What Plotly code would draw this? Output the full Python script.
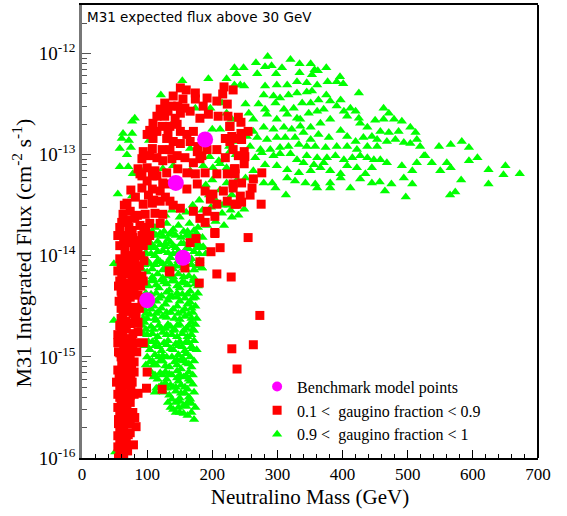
import plotly.graph_objects as go

# ---------------- data (mass in GeV, log10 of integrated flux in cm^-2 s^-1) ----------------
bench_mass = [189, 144, 155, 100]
bench_log10_flux = [-12.85, -13.28, -14.02, -14.44]

# green: 0.9 < gaugino fraction < 1  -- upper scattered band
green_band = [
    (285,-12.03),(320,-12.06),(334,-12.10),(351,-12.10),(375,-12.14),(267,-12.09),(281,-12.13),(291,-12.12),
    (307,-12.14),(269,-12.20),(298,-12.20),(334,-12.19),(357,-12.16),(362,-12.17),(353,-12.21),(396,-12.23),
    (401,-12.30),(377,-12.28),(391,-12.28),(425,-12.39),(248,-12.14),(243,-12.31),(249,-12.32),(281,-12.32),
    (299,-12.31),(315,-12.31),(330,-12.28),(345,-12.29),(361,-12.31),(330,-12.39),(345,-12.38),(353,-12.37),
    (375,-12.41),(317,-12.41),(279,-12.41),(294,-12.42),(304,-12.44),(271,-12.50),(281,-12.55),(297,-12.49),
    (310,-12.55),(325,-12.54),(338,-12.49),(351,-12.49),(363,-12.46),(381,-12.47),(397,-12.46),(412,-12.54),
    (420,-12.57),(425,-12.64),(402,-12.57),(391,-12.52),(371,-12.55),(361,-12.57),(348,-12.59),(335,-12.65),
    (330,-12.64),(315,-12.60),(299,-12.65),(284,-12.60),(263,-12.65),(256,-12.59),(251,-12.50),(463,-12.54),
    (471,-12.59),(450,-12.66),(463,-12.65),(479,-12.65),(491,-12.67),(504,-12.73),(512,-12.78),(514,-12.85),
    (519,-12.92),(486,-12.77),(471,-12.78),(458,-12.77),(438,-12.73),(427,-12.69),(407,-12.62),(381,-12.65),
    (366,-12.69),(351,-12.73),(335,-12.72),(322,-12.75),(310,-12.73),(294,-12.75),(279,-12.73),(263,-12.77),
    (253,-12.82),(269,-12.83),(284,-12.85),(299,-12.83),(312,-12.83),(327,-12.83),(340,-12.78),(351,-12.85),
    (363,-12.80),(379,-12.83),(397,-12.76),(407,-12.82),(420,-12.87),(432,-12.83),(445,-12.82),(453,-12.85),
    (468,-12.87),(481,-12.85),(494,-12.88),(504,-12.89),(453,-12.92),(438,-12.92),(422,-12.95),(407,-12.92),
    (391,-12.92),(374,-12.93),(358,-12.92),(345,-12.92),(333,-12.90),(317,-12.92),(304,-12.93),(289,-12.95),
    (274,-12.95),(258,-12.92),(248,-13.03),(266,-13.03),(276,-12.98),(294,-13.01),(304,-12.99),(320,-12.99),
    (330,-13.05),(345,-13.01),(361,-13.03),(376,-13.03),(389,-13.01),(402,-13.05),(415,-13.03),(427,-13.01),
    (438,-13.03),(448,-13.05),(458,-13.05),(468,-13.08),(491,-13.11),(507,-13.16),(525,-13.01),(537,-13.08),
    (548,-12.92),(566,-12.90),(583,-12.87),(594,-12.93),(560,-13.08),(566,-13.13),(594,-13.06),(607,-13.03),
    (624,-13.15),(650,-13.11),(647,-13.20),(672,-13.19),(582,-13.25),(624,-13.29),(573,-13.37),(565,-13.40),
    (497,-13.42),(465,-13.36),(475,-13.29),(457,-13.27),(445,-13.28),(427,-13.24),(412,-13.33),(397,-13.23),
    (381,-13.28),(381,-13.33),(358,-13.29),(361,-13.33),(343,-13.28),(327,-13.26),(315,-13.23),(297,-13.33),
    (292,-13.28),(279,-13.28),(263,-13.24),(251,-13.23),(313,-13.40),(249,-13.54),(263,-13.16),(281,-13.10),
    (299,-13.11),(315,-13.15),(333,-13.18),(351,-13.16),(366,-13.13),(381,-13.16),(397,-13.19),(407,-13.11),
    (422,-13.13),(435,-13.19),(445,-13.13),(494,-13.23),(507,-13.29),(514,-13.08),(527,-13.01),(550,-13.16),
    (356,-13.10),(371,-13.08),(340,-13.08),(237,-12.20),
]

# green: left and middle scatter above the dense core
green_left = [
    (154,-12.27),(194,-12.25),(222,-12.25),(234,-12.14),(234,-12.31),(121,-12.41),(174,-12.54),(197,-12.54),
    (215,-12.49),(222,-12.59),(230,-12.65),(200,-12.75),(212,-12.75),(81,-12.64),(77,-12.67),(63,-12.79),
    (77,-12.79),(61,-12.84),(72,-12.86),(58,-12.94),(75,-12.93),(69,-13.00),(103,-12.86),(58,-13.12),
    (71,-13.12),(138,-12.70),(166,-12.94),(207,-12.97),(227,-12.97),(235,-12.87),(186,-13.11),(201,-13.13),
    (212,-13.09),(222,-13.13),(78,-13.19),(89,-13.14),(124,-13.14),(140,-13.11),(166,-13.16),(55,-13.39),
    (77,-13.41),(63,-13.80),(49,-14.08),(49,-14.64),(51,-15.94),
    (190,-13.30),(200,-13.25),(212,-13.35),(222,-13.28),(230,-13.40),(238,-13.25),(205,-13.45),(215,-13.50),
    (228,-13.55),(240,-13.60),(195,-13.40),(180,-13.45),(196,-13.02),(210,-13.06),(236,-13.00),(226,-12.92),
]

# green: dense core
green_core = [
    (128,-13.60),(138,-13.55),(150,-13.62),(160,-13.57),(170,-13.50),(185,-13.55),(198,-13.52),(215,-13.58),
    (225,-13.50),(165,-13.68),(178,-13.72),(192,-13.70),(205,-13.66),(218,-13.70),(230,-13.62),
    (112,-13.72),(120,-13.78),(130,-13.68),(140,-13.74),(148,-13.70),(156,-13.76),(166,-13.80),(176,-13.78),
    (185,-13.82),(100,-13.85),(108,-13.92),(116,-13.86),(124,-13.95),(132,-13.84),(140,-13.90),(148,-13.96),
    (156,-13.88),(164,-13.93),(172,-13.86),(182,-13.92),(190,-13.98),
    (96,-14.02),(104,-14.08),(112,-14.00),(120,-14.06),(128,-14.12),(136,-14.02),(144,-14.10),(152,-14.05),
    (160,-14.14),(168,-14.03),(176,-14.10),(184,-14.12),(100,-14.16),(116,-14.18),(132,-14.20),(148,-14.18),
    (164,-14.20),(94,-14.26),(102,-14.30),(110,-14.24),(118,-14.32),(126,-14.26),(134,-14.34),(142,-14.25),
    (150,-14.32),(158,-14.27),(166,-14.35),(174,-14.28),(106,-14.38),(122,-14.40),(138,-14.40),(154,-14.38),
    (170,-14.42),(92,-14.48),(100,-14.46),(110,-14.50),(118,-14.55),(128,-14.48),(136,-14.56),(146,-14.50),
    (154,-14.55),(162,-14.48),(170,-14.56),(104,-14.58),(124,-14.60),(142,-14.62),(158,-14.60),(174,-14.50),
    (96,-14.66),(106,-14.70),(114,-14.64),(122,-14.72),(132,-14.68),(140,-14.74),(150,-14.68),(160,-14.72),
    (168,-14.66),(100,-14.78),(116,-14.80),(130,-14.78),(146,-14.80),(162,-14.80),(172,-14.74),
    (98,-14.88),(108,-14.85),(118,-14.90),(126,-14.86),(136,-14.92),(144,-14.87),(154,-14.90),(164,-14.86),
    (112,-14.98),(130,-15.00),(148,-14.98),(160,-14.97),(170,-14.92),
    (104,-15.05),(114,-15.08),(124,-15.04),(134,-15.10),(142,-15.05),(152,-15.12),(160,-15.06),(168,-15.10),
    (120,-15.16),(138,-15.18),(156,-15.20),(110,-15.20),(128,-15.26),(140,-15.30),(148,-15.24),(158,-15.30),
    (166,-15.24),(134,-15.38),(152,-15.36),(164,-15.40),(118,-15.30),(144,-15.45),(156,-15.48),(168,-15.46),
    (150,-15.55),(162,-15.58),(172,-15.62),(140,-15.52),(184,-14.12),(171,-14.41),
]

# green: extra points filling the dense core
green_core_fill = [
    (104,-13.80),(114,-13.80),(124,-13.81),(134,-13.79),(144,-13.80),(152,-13.82),(160,-13.80),(170,-13.81),
    (98,-13.97),(106,-13.98),(116,-13.96),(132,-13.97),(140,-13.98),(156,-13.97),(172,-13.96),(180,-13.98),
    (92,-14.13),(108,-14.13),(124,-14.14),(140,-14.13),(156,-14.12),(172,-14.14),
    (98,-14.29),(114,-14.29),(130,-14.28),(146,-14.30),(162,-14.29),(178,-14.30),
    (96,-14.45),(114,-14.45),(132,-14.44),(150,-14.45),(166,-14.46),
    (94,-14.62),(100,-14.62),(112,-14.62),(130,-14.61),(150,-14.63),(168,-14.62),(176,-14.62),
    (94,-14.77),(108,-14.77),(124,-14.76),(138,-14.78),(154,-14.77),(168,-14.78),
    (104,-14.93),(122,-14.94),(140,-14.93),(158,-14.94),(176,-14.93),
    (98,-15.08),(110,-15.08),(128,-15.09),(146,-15.08),(164,-15.07),
    (116,-15.22),(130,-15.22),(146,-15.21),(164,-15.22),
    (112,-15.35),(126,-15.35),(144,-15.34),(158,-15.36),(172,-15.35),
    (132,-15.45),(150,-15.44),(162,-15.45),(144,-15.55),(156,-15.56),(168,-15.55),
    (96,-13.88),(106,-13.88),(120,-13.89),(128,-13.88),(136,-13.87),(152,-13.88),(168,-13.89),(178,-13.88),
    (100,-14.05),(116,-14.05),(132,-14.06),(148,-14.05),(164,-14.04),(180,-14.05),
    (92,-14.21),(108,-14.21),(124,-14.22),(140,-14.21),(156,-14.21),(172,-14.22),
    (98,-14.37),(114,-14.37),(130,-14.36),(146,-14.37),(162,-14.38),(178,-14.37),
    (96,-14.53),(106,-14.53),(122,-14.52),(140,-14.53),(158,-14.53),(168,-14.52),
    (92,-14.69),(118,-14.69),(136,-14.70),(146,-14.69),(164,-14.69),(174,-14.68),
    (102,-14.85),(114,-14.85),(132,-14.84),(150,-14.85),(160,-14.85),(172,-14.84),
    (100,-15.00),(118,-15.00),(124,-14.99),(138,-15.00),(154,-15.01),(166,-15.00),
    (106,-15.15),(128,-15.15),(146,-15.14),(164,-15.15),
    (122,-15.28),(136,-15.28),(152,-15.28),(170,-15.27),
    (138,-15.42),(150,-15.41),(166,-15.42),
]

# green: third layer of the dense core
green_core_fill2 = [
    (108,-13.76),(126,-13.76),(138,-13.77),(162,-13.76),(172,-13.75),
    (102,-13.92),(112,-13.92),(128,-13.91),(144,-13.92),(160,-13.93),(176,-13.92),(186,-13.91),
    (96,-14.09),(112,-14.09),(124,-14.08),(136,-14.09),(152,-14.10),(168,-14.09),(180,-14.08),
    (96,-14.25),(106,-14.25),(122,-14.24),(138,-14.25),(154,-14.26),(170,-14.25),
    (94,-14.41),(102,-14.41),(118,-14.42),(134,-14.41),(146,-14.41),(158,-14.42),(174,-14.41),
    (98,-14.57),(114,-14.57),(130,-14.56),(148,-14.57),(164,-14.58),
    (98,-14.73),(110,-14.73),(128,-14.72),(142,-14.73),(156,-14.74),(170,-14.73),
    (96,-14.89),(112,-14.89),(130,-14.88),(148,-14.89),(168,-14.90),
    (108,-15.04),(120,-15.04),(146,-15.03),(156,-15.04),(172,-15.04),
    (112,-15.18),(124,-15.18),(134,-15.17),(150,-15.18),(160,-15.19),(170,-15.18),
    (114,-15.31),(130,-15.31),(144,-15.30),(162,-15.32),
    (136,-15.50),(148,-15.50),(160,-15.49),(174,-15.50),
]

# red: 0.1 < gaugino fraction < 0.9  -- upper cloud
red_upper = [
    (151,-12.34),(160,-12.36),(174,-12.39),(192,-12.44),(140,-12.42),(137,-12.52),(127,-12.49),(155,-12.45),
    (147,-12.52),(158,-12.54),(174,-12.45),(186,-12.52),(207,-12.47),(218,-12.33),(216,-12.40),(223,-12.50),
    (120,-12.55),(132,-12.57),(115,-12.62),(127,-12.62),(143,-12.64),(151,-12.59),(166,-12.57),(181,-12.64),
    (194,-12.60),(209,-12.62),(224,-12.62),(109,-12.69),(123,-12.72),(135,-12.72),(146,-12.70),(104,-12.76),
    (115,-12.77),(132,-12.79),(151,-12.77),(161,-12.80),(171,-12.77),(227,-12.72),(100,-12.80),(109,-12.84),
    (130,-12.84),(140,-12.87),(151,-12.89),(166,-12.87),(178,-12.92),(192,-12.95),(207,-12.95),(220,-12.84),
    (227,-12.87),(238,-12.84),(94,-12.97),(108,-12.94),(123,-12.95),(135,-12.95),(146,-13.01),(158,-13.03),
    (177,-12.97),(184,-13.01),(220,-13.03),(232,-12.95),(92,-13.04),(104,-13.01),(115,-13.03),(124,-13.06),
    (138,-13.04),(171,-13.08),(181,-13.04),(86,-13.14),(100,-13.13),(112,-13.16),(130,-13.18),(147,-13.14),
    (161,-13.18),(174,-13.19),(189,-13.18),(207,-13.19),(223,-13.19),(235,-13.14),(92,-13.21),(108,-13.21),
    (232,-12.36),(240,-12.63),(244,-12.68),(227,-12.72),(244,-12.79),(255,-12.77),(245,-12.85),(230,-12.82),
    (249,-12.97),(250,-13.02),(249,-13.09),(240,-13.01),(234,-13.14),(235,-13.19),(276,-13.18),(263,-13.24),
    (261,-13.33),(245,-13.28),(232,-13.33),(258,-13.40),(243,-13.41),(245,-13.47),(235,-13.49),(275,-13.49),
]

# red: middle region
red_middle = [
    (89,-13.19),(100,-13.26),(115,-13.21),(124,-13.28),(92,-13.33),(108,-13.34),(120,-13.36),(132,-13.29),
    (161,-13.34),(177,-13.29),(189,-13.36),(201,-13.39),(217,-13.36),(232,-13.29),(238,-13.49),(223,-13.46),
    (207,-13.49),(197,-13.44),(192,-13.56),(181,-13.63),(189,-13.67),(204,-13.61),(171,-13.56),(151,-13.53),
    (135,-13.46),(120,-13.46),(108,-13.48),(94,-13.49),(69,-13.48),(74,-13.56),(63,-13.59),(61,-13.67),
    (81,-13.63),(97,-13.59),(112,-13.58),(124,-13.59),(89,-13.70),(104,-13.68),(120,-13.68),(77,-13.75),
    (66,-13.80),(55,-13.80),(78,-13.82),(92,-13.80),(104,-13.80),(69,-13.87),(81,-13.90),(94,-13.90),
    (166,-13.87),(175,-13.83),(204,-13.77),(212,-13.92),(198,-13.96),(66,-13.95),(74,-14.00),(86,-13.97),
    (58,-14.03),(81,-14.05),(69,-14.08),(84,-14.13),(69,-14.15),(61,-14.22),(77,-14.22),(86,-14.25),
    (66,-14.30),(78,-14.33),(61,-14.37),(74,-14.41),(86,-14.39),(69,-14.47),(81,-14.51),
    (134,-14.15),(158,-14.12),(181,-14.06),(207,-14.18),(229,-14.21),
    (204,-13.78),(255,-13.82),(135,-14.16),(180,-14.27),(273,-14.59),(230,-14.92),(263,-14.88),(238,-15.12),
    (102,-13.40),(82,-13.42),(75,-13.35),(110,-13.45),(128,-13.42),(140,-13.50),(65,-13.50),
    (58,-13.90),(80,-13.95),(88,-13.85),(98,-13.75),(70,-13.65),(85,-13.60),
    (58,-13.72),(72,-13.72),(95,-13.72),(64,-13.85),(100,-13.85),(68,-14.00),(90,-14.00),(60,-14.10),
    (88,-14.10),(66,-14.18),(80,-14.18),(58,-14.25),(94,-14.25),
]

# red: narrow low-mass band
red_band = [
    (63,-14.59),(78,-14.57),(58,-14.69),(74,-14.67),(86,-14.66),(63,-14.77),(78,-14.77),(55,-14.86),
    (69,-14.87),(81,-14.86),(58,-14.96),(74,-14.97),(61,-15.05),(74,-15.06),(55,-15.13),(71,-15.16),
    (63,-15.23),(77,-15.25),(58,-15.31),(71,-15.43),(58,-15.40),(55,-15.50),(69,-15.51),(61,-15.58),
    (74,-15.61),(63,-15.67),(58,-15.74),(71,-15.77),(61,-15.82),(55,-15.89),(66,-15.90),(58,-15.95),
    (81,-15.60),(94,-14.86),(100,-15.15),(99,-15.31),(123,-15.32),(86,-15.36),(75,-15.32),(83,-15.69),
    (79,-15.87),
    (57,-14.45),(65,-14.50),(72,-14.55),(60,-14.62),(68,-14.72),(83,-14.60),(55,-14.78),(72,-14.82),
    (64,-14.90),(78,-14.92),(60,-15.00),(68,-15.02),(80,-15.05),(57,-15.18),(66,-15.12),(75,-15.20),
    (62,-15.35),(68,-15.28),(53,-15.25),(66,-15.45),(60,-15.48),(74,-15.38),(56,-15.62),(67,-15.63),
    (64,-15.72),(55,-15.78),(68,-15.85),(60,-15.90),(56,-16.00),(64,-15.98),(71,-14.40),(63,-14.42),
    (88,-14.52),(92,-14.45),(56,-14.30),(73,-14.27),(92,-14.20),(90,-14.30),(55,-14.15),(63,-14.05),
    (95,-14.05),(75,-14.12),
    (60,-14.35),(68,-14.35),(80,-14.35),(60,-14.52),(76,-14.52),(68,-14.65),(82,-14.65),(60,-14.75),
    (86,-14.75),(64,-14.83),(76,-14.83),(56,-14.95),(68,-14.95),(84,-14.95),(64,-15.08),(76,-15.08),
    (62,-15.15),(80,-15.15),(60,-15.27),(72,-15.27),(55,-15.37),(68,-15.37),(80,-15.37),(62,-15.45),
    (74,-15.45),(58,-15.55),(66,-15.55),(78,-15.55),(56,-15.66),(70,-15.66),(62,-15.75),(74,-15.75),
    (58,-15.83),(66,-15.83),(62,-15.93),(70,-15.93),(60,-16.00),
]

x_ticks = [0, 100, 200, 300, 400, 500, 600, 700]
y_ticks = [1e-16, 1e-15, 1e-14, 1e-13, 1e-12]
y_tick_text = ["10<sup>-16</sup>", "10<sup>-15</sup>", "10<sup>-14</sup>", "10<sup>-13</sup>", "10<sup>-12</sup>"]

green_all = green_band + green_left + green_core + green_core_fill + green_core_fill2
red_all = red_upper + red_middle + red_band
green_mass = [p[0] for p in green_all]
green_flux = [10 ** p[1] for p in green_all]
red_mass = [p[0] for p in red_all]
red_flux = [10 ** p[1] for p in red_all]
bench_flux = [10 ** v for v in bench_log10_flux]

serif = "Liberation Serif"

fig = go.Figure()
fig.add_trace(go.Scatter(
    x=green_mass, y=green_flux, mode="markers", name="0.9 <  gaugino fraction < 1",
    marker=dict(symbol="triangle-up", size=9, color="#00ff00", line=dict(width=0)),
    legendrank=3))
fig.add_trace(go.Scatter(
    x=red_mass, y=red_flux, mode="markers", name="0.1 <  gaugino fraction < 0.9",
    marker=dict(symbol="square", size=9, color="#ff0000", line=dict(width=0)),
    legendrank=2))
fig.add_trace(go.Scatter(
    x=bench_mass, y=bench_flux, mode="markers", name="Benchmark model points",
    marker=dict(symbol="circle", size=16, color="#ff00ff", line=dict(width=0)),
    showlegend=False))
# legend entry for the benchmark points (smaller symbol, as in the original legend)
fig.add_trace(go.Scatter(
    x=[None], y=[None], mode="markers", name="Benchmark model points",
    marker=dict(symbol="circle", size=10, color="#ff00ff", line=dict(width=0)),
    legendrank=1))

fig.update_layout(
    width=567, height=516,
    margin=dict(l=82, r=29, t=3, b=58),
    plot_bgcolor="white", paper_bgcolor="white",
    font=dict(family=serif, color="black"),
    legend=dict(x=0.384, y=0.195, xanchor="left", yanchor="top",
                font=dict(family=serif, size=16, color="black"),
                bgcolor="rgba(0,0,0,0)", itemwidth=30, traceorder="normal"),
    xaxis=dict(range=[0, 700], tickvals=x_ticks, ticks="inside", ticklen=8,
               tickcolor="black", showline=True, linecolor="black", linewidth=1.5,
               mirror=True, showgrid=False, zeroline=False,
               tickfont=dict(family=serif, size=17, color="black"),
               minor=dict(dtick=20, ticks="inside", ticklen=4, tickcolor="black", showgrid=False),
               title=dict(text="Neutralino Mass (GeV)", font=dict(family=serif, size=21), standoff=6)),
    yaxis=dict(type="log", range=[-16, -11.52], tickvals=y_ticks, ticktext=y_tick_text,
               ticks="inside", ticklen=9, tickcolor="#555", showline=True, linecolor="#777",
               linewidth=2.5, showgrid=False, zeroline=False,
               tickfont=dict(family=serif, size=19, color="black"),
               minor=dict(dtick="D1", ticks="inside", ticklen=5, tickcolor="#555", showgrid=False)),
    showlegend=True,
)

# y-axis title placed as in the original (shifted towards the top of the axis)
fig.add_annotation(text="M31 Integrated Flux (cm<sup>-2</sup> s<sup>-1</sup>)", xref="paper", yref="paper",
                   x=-0.132, y=0.453, xanchor="center", yanchor="middle", textangle=-90,
                   showarrow=False, font=dict(family=serif, size=22, color="black"))

fig.add_shape(type="line", xref="paper", yref="paper", x0=1, x1=1, y0=0, y1=1,
              line=dict(color="black", width=2))

fig.add_annotation(text="M31 expected flux above 30 GeV", xref="paper", yref="paper",
                   x=0.007, y=0.995, xanchor="left", yanchor="top", showarrow=False,
                   font=dict(family="DejaVu Sans", size=13.5, color="black"))

fig.write_html("out.html")
